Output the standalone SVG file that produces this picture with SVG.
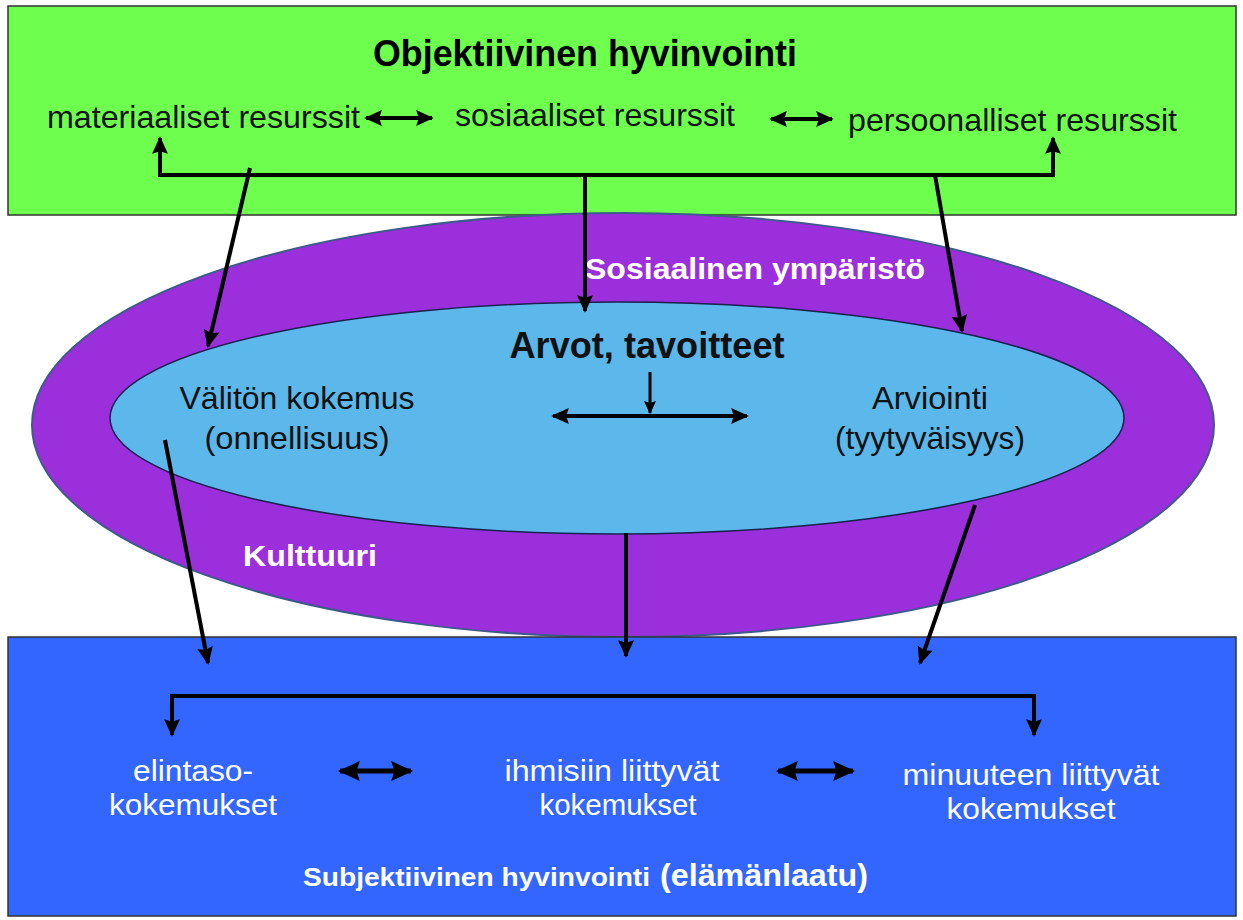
<svg xmlns="http://www.w3.org/2000/svg" width="1243" height="920" viewBox="0 0 1243 920">
<defs>
<marker id="ah" viewBox="0 0 10 10" refX="9" refY="5" markerWidth="4.4" markerHeight="4.4" orient="auto-start-reverse" markerUnits="strokeWidth">
<path d="M0,0.5 L10,5 L0,9.5 L1.5,5 Z" fill="#000"/>
</marker>
<style>
.t{font-family:"Liberation Sans",Arial,sans-serif;}
.r{font-size:32px;fill:#111;}
.w{font-size:30px;fill:#fff;}
.b{font-weight:bold;}
.ln{stroke:#000;stroke-width:4;fill:none;}
.la{stroke:#000;stroke-width:4;fill:none;marker-end:url(#ah);}
.lb{stroke:#000;stroke-width:4;fill:none;marker-end:url(#ah);marker-start:url(#ah);}
</style>
</defs>
<rect width="1243" height="920" fill="#fff"/>
<g id="objektiivinen">
<rect x="8" y="6" width="1228" height="209" fill="#6EFF4E" stroke="#333" stroke-width="1.5"/>
<text class="t b" x="585" y="66" font-size="37" text-anchor="middle" textLength="424" lengthAdjust="spacingAndGlyphs">Objektiivinen hyvinvointi</text>
<text class="t r" x="47" y="128" textLength="313" lengthAdjust="spacingAndGlyphs">materiaaliset resurssit</text>
<text class="t r" x="455" y="126" textLength="280" lengthAdjust="spacingAndGlyphs">sosiaaliset resurssit</text>
<text class="t r" x="848" y="131" textLength="329" lengthAdjust="spacingAndGlyphs">persoonalliset resurssit</text>
</g>
<g id="ymparisto">
<ellipse cx="623" cy="425" rx="591" ry="212" fill="#9B2FDB" stroke="#3E5A8C" stroke-width="2"/>
<text class="t w b" x="585" y="279" font-size="29" textLength="340" lengthAdjust="spacingAndGlyphs">Sosiaalinen ympäristö</text>
<text class="t w b" x="243" y="566" font-size="29" textLength="134" lengthAdjust="spacingAndGlyphs">Kulttuuri</text>
</g>
<g id="arvot">
<ellipse cx="617" cy="418" rx="507" ry="116" fill="#5CB7EA" stroke="#1A2050" stroke-width="1.5"/>
<text class="t b" x="647" y="358" font-size="37" text-anchor="middle" fill="#111" textLength="275" lengthAdjust="spacingAndGlyphs">Arvot, tavoitteet</text>
<text class="t r" x="297" y="409" text-anchor="middle" textLength="235" lengthAdjust="spacingAndGlyphs">Välitön kokemus</text>
<text class="t r" x="297" y="449" text-anchor="middle" textLength="185" lengthAdjust="spacingAndGlyphs">(onnellisuus)</text>
<text class="t r" x="930" y="409" text-anchor="middle" textLength="116" lengthAdjust="spacingAndGlyphs">Arviointi</text>
<text class="t r" x="930" y="449" text-anchor="middle" textLength="190" lengthAdjust="spacingAndGlyphs">(tyytyväisyys)</text>
</g>
<g id="subjektiivinen">
<rect x="8" y="637" width="1228" height="279" fill="#3366FF" stroke="#333" stroke-width="1.5"/>
<text class="t w" x="193" y="781" text-anchor="middle" textLength="120" lengthAdjust="spacingAndGlyphs">elintaso-</text>
<text class="t w" x="193" y="815" text-anchor="middle" textLength="168" lengthAdjust="spacingAndGlyphs">kokemukset</text>
<text class="t w" x="612" y="781" text-anchor="middle" textLength="215" lengthAdjust="spacingAndGlyphs">ihmisiin liittyvät</text>
<text class="t w" x="618" y="815" text-anchor="middle" textLength="157" lengthAdjust="spacingAndGlyphs">kokemukset</text>
<text class="t w" x="1031" y="785" text-anchor="middle" textLength="257" lengthAdjust="spacingAndGlyphs">minuuteen liittyvät</text>
<text class="t w" x="1031" y="819" text-anchor="middle" textLength="169" lengthAdjust="spacingAndGlyphs">kokemukset</text>
<text class="t w b" x="303" y="886"><tspan font-size="25" textLength="347" lengthAdjust="spacingAndGlyphs">Subjektiivinen  hyvinvointi</tspan><tspan x="660" font-size="31" textLength="208" lengthAdjust="spacingAndGlyphs">(elämänlaatu)</tspan></text>
</g>
<g id="connectors">
<line class="lb" x1="366" y1="118" x2="432" y2="118"/>
<line class="lb" x1="771" y1="119" x2="832" y2="119"/>
<polyline class="ln" points="160,175 1053,175"/>
<line class="la" x1="160" y1="177" x2="160" y2="138"/>
<line class="la" x1="1053" y1="177" x2="1053" y2="138"/>
<line class="la" x1="250" y1="168" x2="208" y2="346"/>
<line class="la" x1="585" y1="175" x2="585" y2="311"/>
<line class="la" x1="935" y1="175" x2="962" y2="331"/>
<line class="la" x1="650" y1="372" x2="650" y2="413" style="stroke-width:3"/>
<line class="lb" x1="553" y1="416" x2="747" y2="416"/>
<line class="la" x1="165" y1="440" x2="208" y2="663"/>
<line class="la" x1="626" y1="533" x2="626" y2="656"/>
<line class="la" x1="975" y1="505" x2="920" y2="663"/>
<polyline class="ln" points="172,696 1034,696"/>
<line class="la" x1="172" y1="694" x2="172" y2="735"/>
<line class="la" x1="1034" y1="694" x2="1034" y2="735"/>
<line class="lb" x1="340" y1="771" x2="411" y2="771" style="stroke-width:5"/>
<line class="lb" x1="778" y1="771" x2="853" y2="771" style="stroke-width:5"/>
</g>
</svg>
